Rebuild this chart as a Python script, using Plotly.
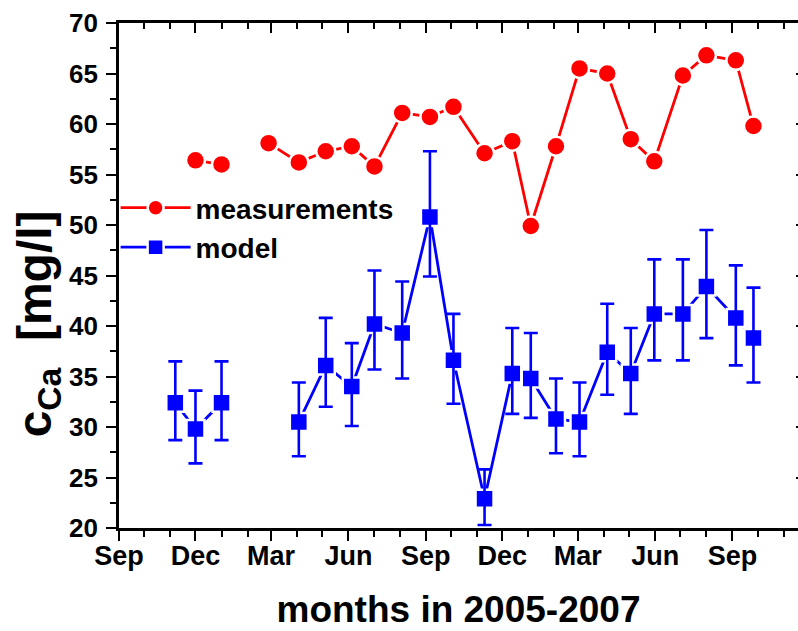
import plotly.graph_objects as go

# ---- data ----
dates = ["2005-11-07", "2005-12-01", "2006-01-01", "2006-02-01", "2006-02-26",
         "2006-04-03", "2006-05-05", "2006-06-05", "2006-07-02", "2006-08-04",
         "2006-09-06", "2006-10-04", "2006-11-10", "2006-12-13", "2007-01-04",
         "2007-02-03", "2007-03-03", "2007-04-05", "2007-05-03", "2007-05-31",
         "2007-07-04", "2007-08-01", "2007-09-05", "2007-09-26"]
measurements = [None, 56.4, 56.0, None, 58.1,
                56.2, 57.3, 57.8, 55.8, 61.1,
                60.7, 61.7, 57.1, 58.3, 49.9,
                57.8, 65.5, 65.0, 58.5, 56.3,
                64.8, 66.8, 66.3, 59.8]
model = [32.4, 29.8, 32.4, None, None,
         30.5, 36.1, 34.0, 40.2, 39.3,
         50.8, 36.6, 22.9, 35.3, 34.8,
         30.8, 30.5, 37.4, 35.3, 41.2,
         41.2, 43.9, 40.8, 38.8]
model_upper = [36.5, 33.6, 36.5, None, None,
               34.4, 40.8, 38.3, 45.5, 44.4,
               57.3, 41.2, 25.8, 39.8, 39.3,
               34.8, 34.4, 42.2, 39.8, 46.6,
               46.6, 49.5, 46.0, 43.8]
model_lower = [28.7, 26.4, 28.7, None, None,
               27.1, 32.0, 30.1, 35.7, 34.8,
               44.9, 32.3, 20.3, 31.3, 30.9,
               27.4, 27.1, 33.2, 31.3, 36.6,
               36.6, 38.8, 36.1, 34.4]
tick_dates = ["2005-09-01", "2005-12-01", "2006-03-01", "2006-06-01", "2006-09-01",
              "2006-12-01", "2007-03-01", "2007-06-01", "2007-09-01"]
tick_labels = ["Sep", "Dec", "Mar", "Jun", "Sep", "Dec", "Mar", "Jun", "Sep"]
x_range = ["2005-09-01", "2007-11-18"]
y_range = [20, 70]

err_plus = [None if (u is None or m is None) else round(u - m, 2) for u, m in zip(model_upper, model)]
err_minus = [None if (l is None or m is None) else round(m - l, 2) for l, m in zip(model_lower, model)]

RED = "#ff0000"
BLUE = "#0000ff"
FONT = "Liberation Sans, Arial, sans-serif"

fig = go.Figure()

fig.add_trace(go.Scatter(
    x=dates, y=measurements, name="measurements", mode="lines+markers",
    line=dict(color=RED, width=2.8),
    marker=dict(symbol="circle", size=19, color=RED, line=dict(color="white", width=2.5)),
    connectgaps=False,
))
fig.add_trace(go.Scatter(
    x=dates, y=model, name="model", mode="lines+markers",
    line=dict(color=BLUE, width=2.8),
    marker=dict(symbol="square", size=18, color=BLUE, line=dict(color="white", width=2.5)),
    connectgaps=False,
))
# error bars drawn on top of the white marker outlines
fig.add_trace(go.Scatter(
    x=dates, y=model, mode="markers", showlegend=False, hoverinfo="skip",
    marker=dict(size=1, color="rgba(0,0,0,0)"),
    error_y=dict(type="data", symmetric=False, array=err_plus, arrayminus=err_minus,
                 color=BLUE, thickness=2.6, width=7),
))
# empty trace to hold mirror axes
fig.add_trace(go.Scatter(x=[], y=[], xaxis="x2", yaxis="y2", showlegend=False, hoverinfo="skip"))

fig.update_layout(
    width=798, height=631,
    margin=dict(l=119, r=0, t=23, b=103),
    paper_bgcolor="white", plot_bgcolor="white",
    font=dict(family=FONT, color="black"),
    showlegend=True,
    legend=dict(x=-0.005, y=0.595, xanchor="left", yanchor="middle",
                bgcolor="rgba(0,0,0,0)", borderwidth=0,
                font=dict(family=FONT, size=28, color="black", weight="bold"),
                itemwidth=70, tracegroupgap=0),
    xaxis=dict(
        type="date", range=x_range,
        tickmode="array", tickvals=tick_dates, ticktext=tick_labels,
        ticks="outside", ticklen=10, tickwidth=2, tickcolor="black",
        minor=dict(tick0="2005-09-01", dtick="M1", ticks="outside", ticklen=6, tickwidth=2, tickcolor="black"),
        showline=True, linewidth=2.8, linecolor="black", showgrid=False, zeroline=False,
        tickfont=dict(family=FONT, size=27, color="black", weight="bold"),
        ticklabelstandoff=-8,
        title=dict(text="months in 2005-2007", standoff=26,
                   font=dict(family=FONT, size=37, color="black", weight="bold")),
    ),
    yaxis=dict(
        range=y_range, dtick=5, tick0=20,
        ticks="outside", ticklen=10, tickwidth=2, tickcolor="black",
        minor=dict(dtick=2.5, ticks="outside", ticklen=6, tickwidth=2, tickcolor="black"),
        showline=True, linewidth=2.8, linecolor="black", showgrid=False, zeroline=False,
        tickfont=dict(family=FONT, size=26, color="black", weight="bold"),
        ticklabelstandoff=3,
    ),
    xaxis2=dict(
        type="date", range=x_range, overlaying="x", side="top", anchor="y",
        tickmode="array", tickvals=tick_dates, ticktext=tick_labels, showticklabels=False,
        ticks="inside", ticklen=10, tickwidth=2, tickcolor="black",
        minor=dict(tick0="2005-09-01", dtick="M1", ticks="inside", ticklen=6, tickwidth=2, tickcolor="black"),
        showline=True, linewidth=2.8, linecolor="black", showgrid=False, zeroline=False,
    ),
    yaxis2=dict(
        range=y_range, dtick=5, tick0=20, overlaying="y", side="right", anchor="x",
        ticks="inside", ticklen=2, tickwidth=2, tickcolor="black", showticklabels=False,
        showline=False, showgrid=False, zeroline=False,
    ),
    annotations=[dict(
        text="c<sub>Ca</sub>  [mg/l]", textangle=-90, showarrow=False,
        xref="paper", yref="paper", x=-0.118, y=0.405, xanchor="center", yanchor="middle",
        font=dict(family=FONT, size=48, color="black", weight="bold"),
    )],
)

fig.write_html("out.html")
